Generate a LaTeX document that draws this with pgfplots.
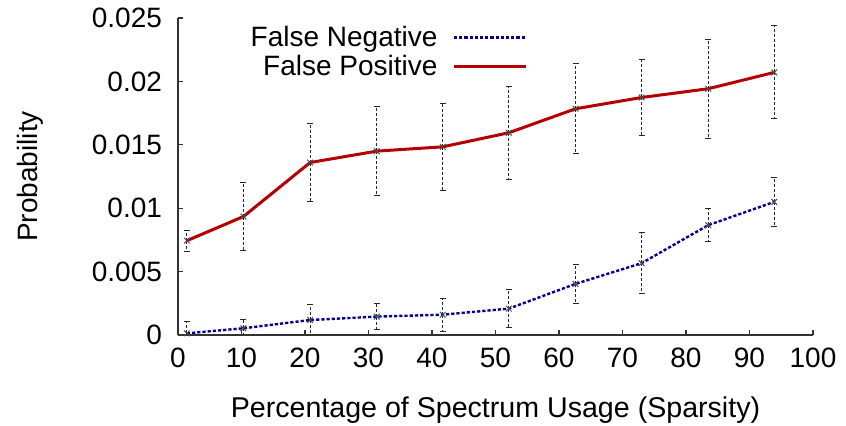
\documentclass[border=0pt]{standalone}
\usepackage{fontspec}
\setmainfont{Liberation Sans}
\usepackage{pgfplots}
\pgfplotsset{compat=1.18}
\definecolor{fpred}{RGB}{180,0,0}
\definecolor{fnblue}{RGB}{0,0,150}
\begin{document}
\begin{tikzpicture}
\begin{axis}[
  scale only axis,
  width=317.5pt, height=158.5pt,
  xmin=0, xmax=100, ymin=0, ymax=0.025,
  scaled y ticks=false,
  axis x line=bottom, axis y line=left,
  axis line style={-, line width=0.7pt, black!80},
  tick align=inside, major tick length=2.5pt,
  tick style={black!80, line width=0.6pt},
  xtick={0,10,...,100},
  ytick={0,0.005,0.01,0.015,0.02,0.025},
  yticklabels={0,0.005,0.01,0.015,0.02,0.025},
  /pgf/number format/assume math mode=true,
  tick label style={font=\fontsize{14}{17}\selectfont},
  xticklabel style={yshift=-3pt},
  yticklabel style={xshift=-4.5pt},
  xlabel={Percentage of Spectrum Usage (Sparsity)},
  ylabel={Probability},
  every axis x label/.style={at={(axis description cs:0.5,-0.237)}, anchor=center, font=\fontsize{14.3}{17}\selectfont},
  every axis y label/.style={at={(axis description cs:-0.233,0.5)}, rotate=90, anchor=center, font=\fontsize{14}{17}\selectfont},
  legend style={draw=none, fill=none, inner sep=0pt, at={(0.551,0.989)}, anchor=north east,
    font=\fontsize{14}{17}\selectfont, row sep=-1pt, /tikz/column sep=5.5pt},
  legend cell align=right,
  legend plot pos=right,
  legend image code/.code={\draw[#1] (0pt,0pt) -- (36pt,0pt);},
  error bars/error bar style={black!85, dashed, line width=0.5pt, dash pattern=on 1.5pt off 1pt},
  error bars/error mark options={black!85, solid, line width=0.5pt, mark size=1.5pt, rotate=90},
]
\addplot[fnblue, line width=1.2pt, dash pattern=on 1.6pt off 1pt, mark=x, mark size=2pt,
  mark options={solid, black!70, line width=0.5pt},
  error bars/.cd, y dir=both, y explicit]
  table[x=x, y=y, y error=e] {
x y e
1.4 0.00013 0.00092
10.3 0.00053 0.00071
20.8 0.00118 0.00124
31.3 0.00145 0.00105
41.7 0.00160 0.00129
52.1 0.00208 0.00150
62.6 0.00403 0.00156
73.0 0.00566 0.00239
83.5 0.00866 0.00132
93.9 0.01050 0.00192
};
\addlegendentry{False Negative}
\addplot[fpred, line width=1.5pt, mark=x, mark size=2pt,
  mark options={solid, black!70, line width=0.5pt},
  error bars/.cd, y dir=both, y explicit]
  table[x=x, y=y, y error=e] {
x y e
1.4 0.00744 0.00082
10.3 0.00934 0.00271
20.8 0.01360 0.00306
31.3 0.01450 0.00352
41.7 0.01484 0.00341
52.1 0.01595 0.00368
62.6 0.01784 0.00354
73.0 0.01873 0.00302
83.5 0.01942 0.00392
93.9 0.02071 0.00366
};
\addlegendentry{False Positive}
\end{axis}
\pgfresetboundingbox
\path[use as bounding box] (-89pt,-45.5pt) rectangle (334pt,167.5pt);
\end{tikzpicture}
\end{document}
